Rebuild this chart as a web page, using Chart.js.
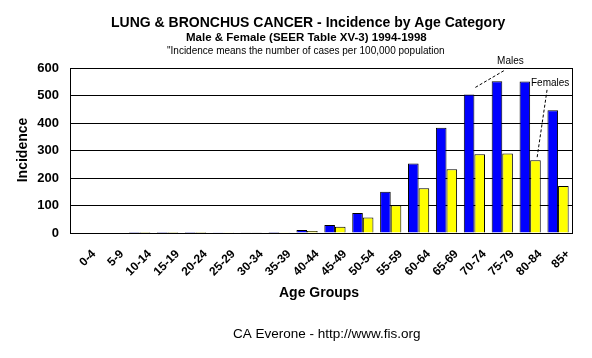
<!DOCTYPE html>
<html>
<head>
<meta charset="utf-8">
<script src="https://cdn.jsdelivr.net/npm/chart.js@4.4.0/dist/chart.umd.min.js"></script>
<style>
  html, body { margin: 0; padding: 0; background: #fff; }
  #wrap { width: 592px; height: 358px; }
</style>
</head>
<body>
<div id="wrap"><canvas id="cv" width="592" height="358"></canvas></div>
<script>
// datos
const ageGroups = ['0-4', '5-9', '10-14', '15-19', '20-24', '25-29', '30-34', '35-39', '40-44',
  '45-49', '50-54', '55-59', '60-64', '65-69', '70-74', '75-79', '80-84', '85+'];
const males = [0, 0, 0.1, 0.2, 0.3, 0.5, 1.2, 4, 11, 29, 73, 150, 253, 383, 504, 552, 551, 446];
const females = [0, 0, 0.1, 0.2, 0.3, 0.5, 1.2, 3, 7, 23, 56, 101, 163, 232, 286, 289, 265, 171];
const yTicks = [0, 100, 200, 300, 400, 500, 600];

const FONT = '"Liberation Sans", Arial, sans-serif';

// plugin para textos fijos, marco y notas
const extras = {
  id: 'extras',
  afterDraw(chart) {
    const ctx = chart.ctx;
    const a = chart.chartArea;
    const x = chart.scales.x;
    const y = chart.scales.y;
    ctx.save();

    // marco del area
    ctx.strokeStyle = '#000';
    ctx.lineWidth = 1;
    ctx.strokeRect(Math.round(a.left) + 0.5, Math.round(a.top) + 0.5,
      Math.round(a.right - a.left), Math.round(a.bottom - a.top));

    ctx.fillStyle = '#000';
    ctx.textAlign = 'left';
    ctx.textBaseline = 'middle';
    ctx.font = 'bold 14px ' + FONT;
    ctx.fillText('LUNG & BRONCHUS CANCER - Incidence by Age Category', 111, 23);
    ctx.font = 'bold 11.5px ' + FONT;
    ctx.fillText('Male & Female (SEER Table XV-3) 1994-1998', 186, 38);
    ctx.font = '10px ' + FONT;
    ctx.fillText('"Incidence means the number of cases per 100,000 population', 167, 51);

    ctx.font = 'bold 14px ' + FONT;
    ctx.fillText('Age Groups', 279, 293);
    ctx.font = '13.5px ' + FONT;
    ctx.fillText('CA Everone - http://www.fis.org', 233, 334);

    ctx.textAlign = 'center';
    ctx.save();
    ctx.translate(23, 150);
    ctx.rotate(-Math.PI / 2);
    ctx.font = 'bold 14px ' + FONT;
    ctx.fillText('Incidence', 0, 0);
    ctx.restore();

    // notas Males / Females
    const xm = x.getPixelForValue(14);
    const ym = y.getPixelForValue(males[14]);
    const xf = x.getPixelForValue(16);
    const yf = y.getPixelForValue(females[16]);
    ctx.setLineDash([3, 2]);
    ctx.beginPath();
    ctx.moveTo(xm + 1, ym - 7);
    ctx.lineTo(xm + 30, ym - 24);
    ctx.moveTo(xf + 7, yf - 3);
    ctx.lineTo(xf + 17, yf - 71);
    ctx.stroke();
    ctx.setLineDash([]);
    ctx.font = '10px ' + FONT;
    ctx.fillText('Males', xm + 36, ym - 33);
    ctx.fillText('Females', xf + 20, yf - 77);
    ctx.restore();
  }
};

const cv = document.querySelector('#cv').getContext('2d');
const myChart = new Chart(cv, {
  type: 'bar',
  data: {
    labels: ageGroups,
    datasets: [{
      label: 'Males',
      data: males,
      backgroundColor: '#0000ff',
      borderColor: '#000',
      borderWidth: 1
    }, {
      label: 'Females',
      data: females,
      backgroundColor: '#ffff00',
      borderColor: '#000',
      borderWidth: 1
    }]
  },
  options: {
    responsive: false,
    animation: false,
    layout: { padding: { left: 0, right: 20, top: 68, bottom: 0 } },
    datasets: { bar: { categoryPercentage: 0.76, barPercentage: 1.0 } },
    plugins: {
      legend: { display: false },
      tooltip: { enabled: false }
    },
    scales: {
      x: {
        grid: { display: false, drawTicks: false },
        border: { display: true, color: '#000' },
        ticks: {
          color: '#000',
          font: { family: FONT, size: 12, weight: 'bold' },
          minRotation: 45,
          maxRotation: 45,
          padding: 14,
          labelOffset: 10,
          autoSkip: false
        },
        afterFit(scale) { scale.height = 125; }
      },
      y: {
        min: 0,
        max: 600,
        afterBuildTicks(scale) { scale.ticks = yTicks.map(v => ({ value: v })); },
        grid: { color: '#000', drawTicks: false },
        border: { display: true, color: '#000' },
        ticks: {
          color: '#000',
          font: { family: FONT, size: 13, weight: 'bold' },
          padding: 11
        },
        afterFit(scale) { scale.width = 70; }
      }
    }
  },
  plugins: [extras]
});
</script>
</body>
</html>
